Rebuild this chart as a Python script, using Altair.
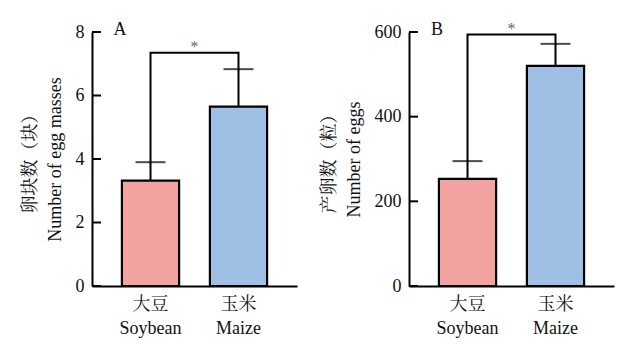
import altair as alt
import pandas as pd

cats = ["大豆|Soybean", "玉米|Maize"]
colors = ["#F2A3A0", "#A0BFE4"]

# Panel A: number of egg masses
a_mean = [3.32, 5.65]
a_top = [3.90, 6.83]
a_bracket = 7.35
a_ticks = [0, 2, 4, 6, 8]
a_domain = [0, 8]
a_title = ["卵块数（块）", "Number of egg masses"]

# Panel B: number of eggs
b_mean = [253, 520]
b_top = [295, 572]
b_bracket = 594
b_ticks = [0, 200, 400, 600]
b_domain = [0, 600]
b_title = ["产卵数（粒）", "Number of eggs"]

SERIF = "Liberation Serif, Noto Serif CJK SC, Noto Sans CJK SC"
W, H = 205, 254


def panel(mean, top, bracket, ticks, domain, title, letter):
    df = pd.DataFrame({"cat": cats, "mean": mean, "top": top})
    x = alt.X(
        "cat:N",
        sort=cats,
        scale=alt.Scale(paddingInner=0.35, paddingOuter=0.34),
        axis=alt.Axis(
            title=None,
            labelExpr="split(datum.value, '|')",
            labelAngle=0,
            ticks=False,
            domainWidth=2,
            domainColor="black",
            labelFont=SERIF,
            labelFontSize=18,
            labelColor="#111",
            labelPadding=9,
            labelLineHeight=24,
        ),
    )
    yscale = alt.Scale(domain=domain, nice=False, zero=True)
    y = alt.Y(
        "mean:Q",
        scale=yscale,
        axis=alt.Axis(
            title=title,
            values=ticks,
            ticks=False,
            grid=False,
            domainWidth=2,
            domainColor="black",
            labelFont=SERIF,
            labelFontSize=18,
            labelColor="#111",
            labelPadding=8,
            titleFont=SERIF,
            titleFontSize=18,
            titleFontWeight="normal",
            titleColor="#111",
            titleLineHeight=25,
            titlePadding=11,
        ),
    )
    base = alt.Chart(df)
    err = base.mark_rule(color="black", strokeWidth=2).encode(
        x=x, y=alt.Y("mean:Q", scale=yscale), y2="top:Q"
    )
    caps = base.mark_tick(color="black", size=30, thickness=2, orient="horizontal").encode(
        x=x, y=alt.Y("top:Q", scale=yscale)
    )
    bars = base.mark_bar(stroke="black", strokeWidth=2.2).encode(
        x=x,
        y=y,
        color=alt.Color("cat:N", scale=alt.Scale(domain=cats, range=colors), legend=None),
    )
    bdf = pd.DataFrame(
        {
            "cat": [cats[0], cats[0], cats[1], cats[1]],
            "v": [top[0], bracket, bracket, top[1]],
            "o": [0, 1, 2, 3],
        }
    )
    br = alt.Chart(bdf).mark_line(color="black", strokeWidth=2, strokeJoin="miter", strokeCap="square").encode(
        x=alt.X("cat:N", sort=cats), y=alt.Y("v:Q", scale=yscale), order="o:Q"
    )
    sdf = pd.DataFrame({"v": [bracket], "s": ["*"]})
    star = alt.Chart(sdf).mark_text(
        font=SERIF, fontSize=16, color="#666", baseline="alphabetic", dy=-1
    ).encode(x=alt.value(W * 0.5), y=alt.Y("v:Q", scale=yscale), text="s:N")
    tdf = pd.DataFrame({"t": ticks})
    tk = alt.Chart(tdf).mark_rule(color="black", strokeWidth=2).encode(
        y=alt.Y("t:Q", scale=yscale), x=alt.value(0), x2=alt.value(9)
    )
    ldf = pd.DataFrame({"l": [letter]})
    lab = alt.Chart(ldf).mark_text(
        font=SERIF, fontSize=18, color="#111", baseline="middle", align="center"
    ).encode(x=alt.value(28), y=alt.value(-2), text="l:N")
    return alt.layer(bars, err, caps, br, star, tk, lab).properties(width=W, height=H)


A = panel(a_mean, a_top, a_bracket, a_ticks, a_domain, a_title, "A")
B = panel(b_mean, b_top, b_bracket, b_ticks, b_domain, b_title, "B")

chart = (
    alt.hconcat(A, B, spacing=23)
    .resolve_scale(y="independent", color="independent")
    .properties(padding={"left": 21, "top": 20, "right": 5, "bottom": 5})
    .configure_view(stroke=None)
)

chart.save("out.html", embed_options={"renderer": "svg", "actions": False})
